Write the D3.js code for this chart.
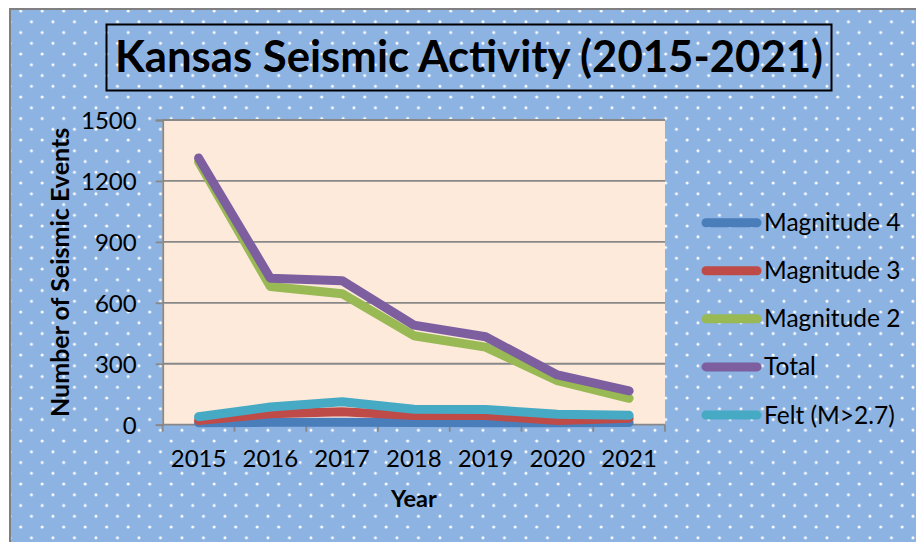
<!DOCTYPE html>
<html>
<head>
<meta charset="utf-8">
<script src="https://cdn.jsdelivr.net/npm/d3@7"></script>
<style>
  html, body { margin: 0; padding: 0; background: #ffffff; }
  svg { display: block; }
  text { font-family: Lato, "Open Sans", sans-serif; fill: #000; }
</style>
</head>
<body>
<svg id="chart" width="916" height="542"></svg>
<script>
// ---- data ----
const years = ["2015", "2016", "2017", "2018", "2019", "2020", "2021"];
const seriesNames = ["Magnitude 4", "Magnitude 3", "Magnitude 2", "Total", "Felt (M>2.7)"];
const magnitude4 = [9, 12, 12, 11, 10, 10, 11];
const magnitude3 = [20, 54, 64, 45, 45, 21, 32];
const magnitude2 = [1295, 680, 645, 438, 382, 217, 130];
const total = [1313, 721, 709, 490, 433, 245, 166];
const felt = [39, 87, 113, 76, 75, 51, 46];
const yTicks = [0, 300, 600, 900, 1200, 1500];
const seriesColors = ["#4A7EBB", "#BE4B48", "#98B954", "#7D5FA0", "#46AAC5"];
const seriesValues = [magnitude4, magnitude3, magnitude2, total, felt];

const svg = d3.select("#chart");

// background pattern
const defs = svg.append("defs");
const pat = defs.append("pattern")
  .attr("id", "dots").attr("patternUnits", "userSpaceOnUse")
  .attr("width", 21.5).attr("height", 21.5)
  .attr("x", 20.7 - 21.5).attr("y", 11 - 21.5);
pat.append("rect").attr("width", 21.5).attr("height", 21.5).attr("fill", "#8DB3E2");
[[0, 0], [21.5, 0], [0, 21.5], [21.5, 21.5], [10.75, 10.75]].forEach(p => {
  pat.append("circle").attr("cx", p[0]).attr("cy", p[1]).attr("r", 1.5).attr("fill", "#FFFFFF");
});

svg.append("rect")
  .attr("x", 10).attr("y", 9).attr("width", 940).attr("height", 560)
  .attr("fill", "url(#dots)").attr("stroke", "#7F7F7F").attr("stroke-width", 2);

// title box
svg.append("rect")
  .attr("x", 106.5).attr("y", 24.5).attr("width", 725).attr("height", 66)
  .attr("fill", "none").attr("stroke", "#000").attr("stroke-width", 2);
svg.append("text")
  .attr("x", 469).attr("y", 72)
  .attr("text-anchor", "middle")
  .attr("font-size", 43.7).attr("font-weight", "bold")
  .text("Kansas Seismic Activity (2015-2021)");

// scales
const plotLeft = 162.7, plotRight = 665, plotTop = 120, plotBottom = 424.7;
const x = d3.scaleBand().domain(years).range([plotLeft, plotRight]).paddingInner(0).paddingOuter(0);
const y = d3.scaleLinear().domain([0, 1500]).range([plotBottom, plotTop]);

// plot background
svg.append("rect")
  .attr("x", plotLeft).attr("y", plotTop)
  .attr("width", plotRight - plotLeft).attr("height", plotBottom - plotTop)
  .attr("fill", "#FDEADA");

// gridlines
svg.append("g").selectAll("line").data(yTicks.filter(d => d > 0)).join("line")
  .attr("x1", plotLeft).attr("x2", plotRight)
  .attr("y1", d => y(d)).attr("y2", d => y(d))
  .attr("stroke", "#888888").attr("stroke-width", 1.8);

// y axis
const yAxis = svg.append("g").attr("transform", `translate(${plotLeft},0)`)
  .call(d3.axisLeft(y).tickValues(yTicks).tickSize(7).tickPadding(19).tickFormat(d3.format("d")));
yAxis.select(".domain").attr("stroke", "#888888").attr("stroke-width", 1.8);
yAxis.selectAll(".tick line").attr("stroke", "#888888").attr("stroke-width", 1.8);
yAxis.selectAll(".tick text").attr("font-size", 24).attr("font-family", "Lato, sans-serif").attr("fill", "#000").attr("dy", "0.36em");

// x axis
const xAxisG = svg.append("g").attr("transform", `translate(0,${plotBottom})`);
xAxisG.append("line").attr("x1", plotLeft).attr("x2", plotRight).attr("y1", 0).attr("y2", 0)
  .attr("stroke", "#888888").attr("stroke-width", 1.8);
const boundaries = years.map(d => x(d)).concat([x(years[years.length - 1]) + x.bandwidth()]);
xAxisG.selectAll("line.tk").data(boundaries).join("line").attr("class", "tk")
  .attr("x1", d => d).attr("x2", d => d).attr("y1", 0).attr("y2", 7)
  .attr("stroke", "#888888").attr("stroke-width", 1.8);
xAxisG.selectAll("text").data(years).join("text")
  .attr("x", d => x(d) + x.bandwidth() / 2).attr("y", 42)
  .attr("text-anchor", "middle").attr("font-size", 24)
  .text(d => d);

// lines
const line = d3.line()
  .x((d, i) => x(years[i]) + x.bandwidth() / 2)
  .y(d => y(d));
svg.append("g").selectAll("path").data(seriesValues).join("path")
  .attr("d", d => line(d))
  .attr("fill", "none")
  .attr("stroke", (d, i) => seriesColors[i])
  .attr("stroke-width", 9)
  .attr("stroke-linecap", "round")
  .attr("stroke-linejoin", "round");

// axis titles
svg.append("text")
  .attr("transform", `translate(69,${(plotTop + plotBottom) / 2}) rotate(-90)`)
  .attr("text-anchor", "middle").attr("font-size", 25).attr("font-weight", "bold")
  .text("Number of Seismic Events");
svg.append("text")
  .attr("x", (plotLeft + plotRight) / 2).attr("y", 507)
  .attr("text-anchor", "middle").attr("font-size", 23.5).attr("font-weight", "bold")
  .text("Year");

// legend
const legendY = d3.scalePoint().domain(seriesNames).range([222.7, 415]);
const lg = svg.append("g").selectAll("g").data(seriesNames).join("g")
  .attr("transform", d => `translate(0,${legendY(d)})`);
lg.append("line")
  .attr("x1", 706).attr("x2", 757).attr("y1", 0).attr("y2", 0)
  .attr("stroke", (d, i) => seriesColors[i]).attr("stroke-width", 9)
  .attr("stroke-linecap", "round");
lg.append("text")
  .attr("x", 764).attr("y", 8.5)
  .attr("font-size", 24.5)
  .text(d => d);
</script>
</body>
</html>
